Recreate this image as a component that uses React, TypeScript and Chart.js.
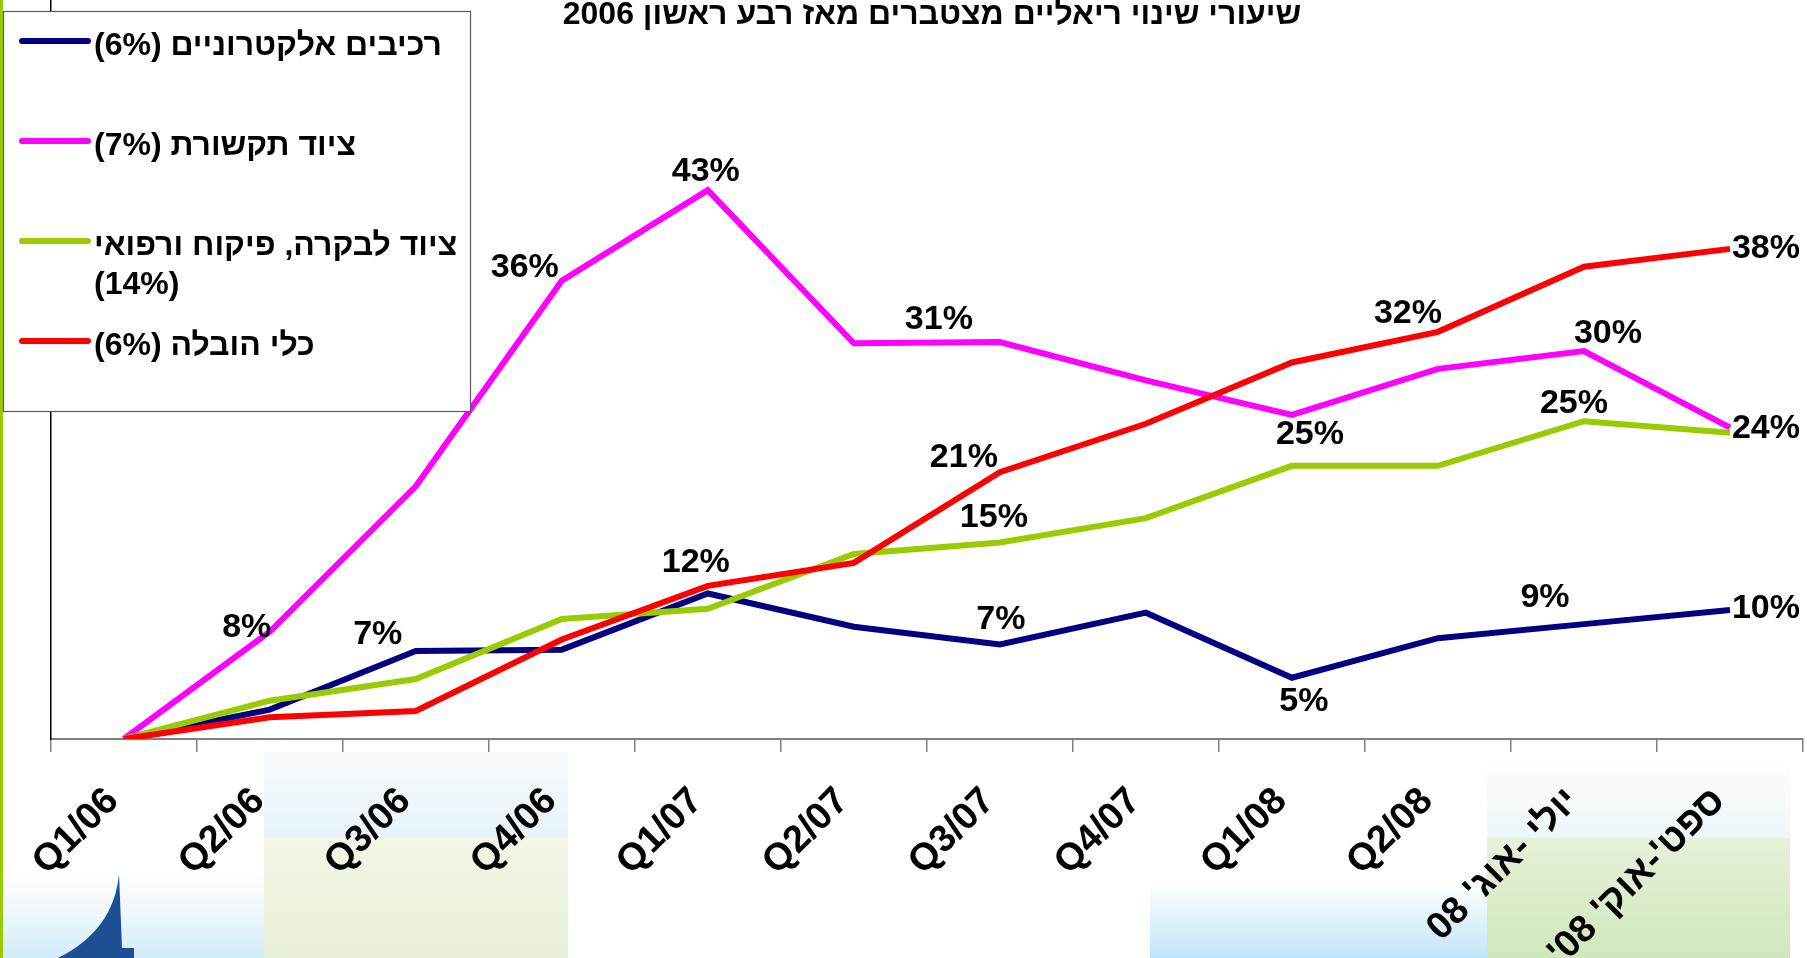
import React, { useEffect, useRef } from "react";
import { Chart, registerables } from "chart.js";

Chart.register(...registerables);

// ---------- data ----------
const categories = [
  "Q1/06", "Q2/06", "Q3/06", "Q4/06",
  "Q1/07", "Q2/07", "Q3/07", "Q4/07",
  "Q1/08", "Q2/08", "יולי -אוג' 08", "ספט'-אוק' 08'",
];

const chartTitle = "שיעורי שינוי ריאליים מצטברים מאז רבע ראשון 2006";

const seriesNames = [
  "רכיבים אלקטרוניים",
  "ציוד תקשורת",
  "ציוד לבקרה, פיקוח ורפואי",
  "כלי הובלה",
];
const seriesShares = ["6%", "7%", "14%", "6%"];

const electronicComponents = [0, 2.3, 6.9, 7.0, 11.4, 8.8, 7.4, 9.9, 4.8, 7.9, 9.0, 10.1];
const communicationEquipment = [0, 8.4, 19.8, 35.9, 43.0, 31.0, 31.1, 28.1, 25.4, 29.0, 30.4, 24.4];
const controlMedicalEquipment = [0, 3.0, 4.7, 9.4, 10.2, 14.5, 15.4, 17.3, 21.4, 21.4, 24.9, 24.0];
const transportVehicles = [0, 1.7, 2.2, 7.8, 12.0, 13.8, 20.9, 24.7, 29.5, 31.9, 37.0, 38.4];

const seriesValues = [electronicComponents, communicationEquipment, controlMedicalEquipment, transportVehicles];

// which points carry a value label: [series index, point index]
const labelledSeries = [1, 0, 1, 1, 3, 1, 3, 2, 0, 1, 0, 3, 1, 2, 0, 3, 1, 0];
const labelledPoints = [1, 2, 3, 4, 4, 6, 6, 6, 6, 8, 8, 9, 10, 10, 10, 11, 11, 11];

// ---------- styles / placement ----------
const seriesColors = ["#000080", "#FF00FF", "#99CC00", "#FF0000"];
const seriesDrawOrder = [3, 2, 1, 0];
const labelDx = [-23, -38, -37, -2, -12, -61, -36, -6, 1, 18, 12, -30, 24, -10, -39, 36, 36, 36];
const labelDy = [-4, -16, -13, -19, -23, -22, -15, -25, -25, 20, 24, -18, -17, -18, -27, 0, 1, -1];

const FONT = '"Liberation Sans", Arial, "DejaVu Sans", sans-serif';
const W = 1807;
const H = 958;

const backgroundPlugin = {
  id: "slideBackground",
  beforeDraw(chart: any) {
    const ctx = chart.ctx as CanvasRenderingContext2D;
    ctx.save();
    ctx.fillStyle = "#ffffff";
    ctx.fillRect(0, 0, W, H);

    // soft decorative patches near the bottom of the slide
    let g = ctx.createLinearGradient(0, 752, 0, 838);
    g.addColorStop(0, "rgba(236,246,251,0.4)");
    g.addColorStop(1, "rgba(226,241,250,0.9)");
    ctx.fillStyle = g;
    ctx.fillRect(264, 752, 304, 86);
    g = ctx.createLinearGradient(0, 838, 0, 958);
    g.addColorStop(0, "rgba(242,246,230,1)");
    g.addColorStop(1, "rgba(232,241,218,1)");
    ctx.fillStyle = g;
    ctx.fillRect(264, 838, 304, 120);

    g = ctx.createLinearGradient(0, 870, 0, 958);
    g.addColorStop(0, "rgba(225,241,250,0)");
    g.addColorStop(1, "rgba(210,235,249,1)");
    ctx.fillStyle = g;
    ctx.fillRect(0, 870, 264, 88);

    g = ctx.createLinearGradient(0, 880, 0, 958);
    g.addColorStop(0, "rgba(200,232,248,0)");
    g.addColorStop(1, "rgba(190,228,247,1)");
    ctx.fillStyle = g;
    ctx.fillRect(1150, 870, 337, 88);

    g = ctx.createLinearGradient(0, 765, 0, 838);
    g.addColorStop(0, "rgba(240,248,252,0.2)");
    g.addColorStop(1, "rgba(236,246,251,1)");
    ctx.fillStyle = g;
    ctx.fillRect(1487, 765, 303, 73);
    g = ctx.createLinearGradient(0, 838, 0, 958);
    g.addColorStop(0, "rgba(230,241,218,1)");
    g.addColorStop(1, "rgba(208,231,188,1)");
    ctx.fillStyle = g;
    ctx.fillRect(1487, 838, 303, 120);

    // logo sail
    ctx.fillStyle = "#1c4f94";
    ctx.beginPath();
    ctx.moveTo(119, 874);
    ctx.quadraticCurveTo(114, 930, 58, 958);
    ctx.lineTo(134, 958);
    ctx.lineTo(134, 948);
    ctx.lineTo(122, 948);
    ctx.closePath();
    ctx.fill();

    // green slide edge
    ctx.fillStyle = "#99CC00";
    ctx.fillRect(0, 0, 3, H);
    ctx.restore();
  },
};

const overlayPlugin = {
  id: "overlay",
  afterDatasetsDraw(chart: any) {
    const ctx = chart.ctx as CanvasRenderingContext2D;
    ctx.save();
    (ctx as any).direction = "rtl";
    ctx.fillStyle = "#000";
    ctx.font = `bold 34px ${FONT}`;
    ctx.textAlign = "center";
    ctx.textBaseline = "middle";
    for (let k = 0; k < labelledSeries.length; k++) {
      const s = labelledSeries[k];
      const i = labelledPoints[k];
      const pt = chart.getDatasetMeta(s).data[i];
      const txt = Math.round(seriesValues[s][i]) + "%";
      ctx.fillText(txt, pt.x + labelDx[k], pt.y + labelDy[k]);
    }
    ctx.restore();
  },
  afterDraw(chart: any) {
    const ctx = chart.ctx as CanvasRenderingContext2D;
    ctx.save();
    (ctx as any).direction = "rtl";

    // title
    ctx.fillStyle = "#000";
    ctx.font = `bold 32px ${FONT}`;
    ctx.textAlign = "center";
    ctx.textBaseline = "alphabetic";
    ctx.fillText(chartTitle, 932, 24);

    // legend box
    const bx = 3.5, by = 11.5, bw = 467, bh = 400;
    ctx.fillStyle = "#ffffff";
    ctx.fillRect(bx, by, bw, bh);
    ctx.strokeStyle = "#5a5a5a";
    ctx.lineWidth = 1.2;
    ctx.strokeRect(bx, by, bw, bh);

    ctx.font = `bold 32px ${FONT}`;
    ctx.textAlign = "left";
    ctx.textBaseline = "alphabetic";
    const maxW = 400;
    for (let s = 0; s < seriesNames.length; s++) {
      const ly = 41 + s * 100;
      ctx.strokeStyle = seriesColors[s];
      ctx.lineWidth = 6;
      ctx.lineCap = "round";
      ctx.beginPath();
      ctx.moveTo(22, ly);
      ctx.lineTo(88, ly);
      ctx.stroke();

      const words = (seriesNames[s] + " (" + seriesShares[s] + ")").split(" ");
      const lines: string[] = [];
      let cur = "";
      for (const w of words) {
        const test = cur ? cur + " " + w : w;
        if (cur && ctx.measureText(test).width > maxW) {
          lines.push(cur);
          cur = w;
        } else cur = test;
      }
      lines.push(cur);
      ctx.fillStyle = "#000";
      lines.forEach((ln, j) => ctx.fillText(ln, 94, ly + 13.5 + j * 39));
    }
    ctx.restore();
  },
};

export default function App() {
  const ref = useRef<HTMLCanvasElement | null>(null);

  useEffect(() => {
    if (!ref.current) return;
    const chart = new Chart(ref.current, {
      type: "line",
      data: {
        labels: categories,
        datasets: seriesNames.map((name, s) => ({
          label: name + " (" + seriesShares[s] + ")",
          data: seriesValues[s],
          borderColor: seriesColors[s],
          backgroundColor: seriesColors[s],
          borderWidth: 6,
          pointRadius: 0,
          tension: 0,
          fill: false,
          order: seriesDrawOrder[s],
        })),
      },
      options: {
        animation: false,
        responsive: false,
        devicePixelRatio: 1,
        layout: { padding: { left: 0, right: 4, top: 0, bottom: 0 } },
        plugins: {
          legend: { display: false },
          tooltip: { enabled: false },
          title: { display: false },
        },
        scales: {
          x: {
            offset: true,
            grid: {
              offset: true,
              drawOnChartArea: false,
              drawTicks: true,
              tickLength: 13,
              color: "#808080",
              lineWidth: 1.5,
            },
            border: { display: true, color: "#808080", width: 2 },
            ticks: {
              autoSkip: false,
              minRotation: 45,
              maxRotation: 45,
              color: "#000",
              padding: 27,
              labelOffset: -11,
              font: { family: FONT, size: 38, weight: "bold" },
            },
            afterFit: (scale: any) => {
              scale.height = 219;
            },
          },
          y: {
            min: 0,
            max: 57.9,
            ticks: { display: false },
            grid: { display: false, drawTicks: false },
            border: { display: true, color: "#000", width: 1.5 },
            afterFit: (scale: any) => {
              scale.width = 50.7;
            },
          },
        },
      } as any,
      plugins: [backgroundPlugin, overlayPlugin],
    });
    return () => chart.destroy();
  }, []);

  return (
    <div style={{ position: "fixed", left: 0, top: 0, width: W, height: H, background: "#fff" }}>
      <canvas
        ref={ref}
        width={W}
        height={H}
        dir="rtl"
        style={{ display: "block", width: W, height: H, direction: "rtl" }}
      />
    </div>
  );
}
